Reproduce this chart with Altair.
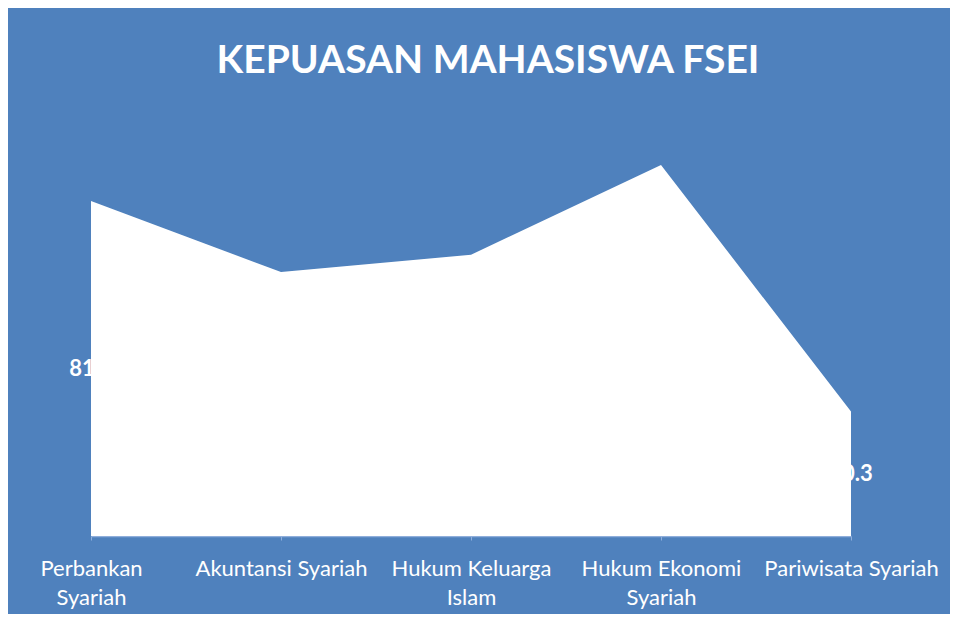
import altair as alt
import pandas as pd

# Data
programs = ["Perbankan Syariah", "Akuntansi Syariah", "Hukum Keluarga Islam",
            "Hukum Ekonomi Syariah", "Pariwisata Syariah"]
satisfaction = [81.6, 64.3, 68.5, 90.4, 30.3]
# How each axis label wraps onto lines
label_lines = {
    "Perbankan Syariah": ["Perbankan", "Syariah"],
    "Akuntansi Syariah": ["Akuntansi Syariah"],
    "Hukum Keluarga Islam": ["Hukum Keluarga", "Islam"],
    "Hukum Ekonomi Syariah": ["Hukum Ekonomi", "Syariah"],
    "Pariwisata Syariah": ["Pariwisata Syariah"],
}

df = pd.DataFrame({"program": programs, "value": satisfaction})
df["half"] = df["value"] / 2
df["label"] = df["value"].map(lambda v: f"{v:.1f}")

parts = []
for k, lines in label_lines.items():
    arr = "[" + ",".join("'" + s + "'" for s in lines) + "]"
    parts.append(f"datum.label == '{k}' ? {arr} : ")
label_expr = "".join(parts) + "datum.label"

BG = "#4F81BD"

x_enc = alt.X(
    "program:N",
    sort=programs,
    scale=alt.Scale(type="point", padding=0),
    axis=alt.Axis(
        title=None,
        labelAngle=0,
        labelColor="white",
        labelFont="Lato",
        labelFontSize=22,
        labelLineHeight=29,
        labelPadding=18,
        labelExpr=label_expr,
        domainColor="#8FAEDB",
        domainWidth=1.5,
        tickColor="#8FAEDB",
        tickSize=4,
        grid=False,
    ),
)
y_scale = alt.Scale(domain=[0, 100], nice=False)

labels = alt.Chart(df).mark_text(
    color="white", font="Lato", fontWeight="bold", fontSize=22, baseline="middle"
).encode(
    x=x_enc,
    y=alt.Y("half:Q", scale=y_scale, axis=None),
    text="label:N",
)

area = alt.Chart(df).mark_area(color="white", opacity=1, interpolate="linear").encode(
    x=x_enc,
    y=alt.Y("value:Q", scale=y_scale, axis=None),
)

chart = alt.layer(labels, area).properties(
    width=760,
    height=410.5,
    title=alt.TitleParams(
        "KEPUASAN MAHASISWA FSEI",
        color="white",
        font="Lato",
        fontWeight="bold",
        fontSize=39,
        anchor="middle",
        dx=17,
        offset=45,
    ),
    background=BG,
    autosize=alt.AutoSizeParams(type="none"),
    padding={"left": 83, "top": 117.5, "right": 99, "bottom": 78},
).configure_view(stroke=None)

chart.save("out.html", embed_options={"renderer": "svg", "actions": False})
